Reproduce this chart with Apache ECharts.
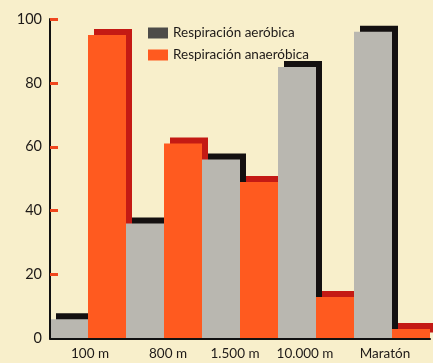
<!DOCTYPE html>
<html>
<head>
<meta charset="utf-8">
<style>
  html, body { margin: 0; padding: 0; background: #f8efcb; }
  #chart { width: 433px; height: 363px; }
</style>
<script src="https://cdn.jsdelivr.net/npm/echarts@6/dist/echarts.min.js"></script>
</head>
<body>
<div id="chart"></div>
<script>
const categories = ['100 m', '800 m', '1.500 m', '10.000 m', 'Maratón'];
const aerobica = [6, 36, 56, 85, 96];
const anaerobica = [95, 61, 49, 13, 3];
const seriesNames = ['Respiración aeróbica', 'Respiración anaeróbica'];
const yTicks = [0, 20, 40, 60, 80, 100];

const mainColors = ['#b9b7b0', '#ff5a1f'];
const shadowColors = ['#141010', '#c41a14'];
const legendColors = ['#4d4c49', '#ff5a1f'];
// horizontal nudge (px) of each category label, styling only
const labelNudge = [2, 4, -5, -11, -7];

const shadowData = [];
categories.forEach((c, i) => {
  shadowData.push([i, aerobica[i], 0]);
  shadowData.push([i, anaerobica[i], 1]);
});

const font = 'Lato, "Noto Sans", sans-serif';
const catData = categories.map((c, i) => {
  const d = labelNudge[i];
  return {
    value: c,
    textStyle: { padding: d >= 0 ? [0, 0, 0, 2 * d] : [0, -2 * d, 0, 0] }
  };
});

const chart = echarts.init(document.getElementById('chart'), null, { renderer: 'canvas' });

chart.setOption({
  backgroundColor: '#f8efcb',
  animation: false,
  grid: { left: 50, right: 3, top: 19, bottom: 24.5, containLabel: false },
  legend: {
    data: [
      { name: seriesNames[0], itemStyle: { color: legendColors[0] } },
      { name: seriesNames[1], itemStyle: { color: legendColors[1] } }
    ],
    orient: 'vertical',
    left: 143, top: 21,
    itemWidth: 20, itemHeight: 11, itemGap: 8,
    icon: 'rect',
    textStyle: { fontFamily: font, fontSize: 13.5, color: '#1e1a18' }
  },
  xAxis: {
    type: 'category',
    data: catData,
    z: 5,
    axisLine: { show: true, lineStyle: { color: '#111', width: 2 } },
    axisTick: { show: false },
    axisLabel: { interval: 0, fontFamily: font, fontSize: 13.5, color: '#1e1a18', margin: 8 },
    splitLine: { show: false }
  },
  yAxis: {
    type: 'value',
    min: yTicks[0], max: yTicks[yTicks.length - 1], interval: 20,
    z: 5,
    axisLine: { show: true, lineStyle: { color: '#111', width: 2 } },
    axisTick: { show: true, inside: true, length: 8, customValues: yTicks.slice(1), lineStyle: { color: '#f0461e', width: 3 } },
    axisLabel: { fontFamily: font, fontSize: 14.5, color: '#1e1a18', margin: 8, customValues: yTicks },
    splitLine: { show: false }
  },
  series: [
    {
      type: 'custom',
      name: 'shadow',
      z: 1,
      silent: true,
      data: shadowData,
      renderItem: function (params, api) {
        const ci = api.value(0), v = api.value(1), s = api.value(2);
        const band = api.size([1, 0])[0];
        const w = band / 2;
        const base = api.coord([ci, 0]);
        const top = api.coord([ci, v]);
        const x0 = base[0] - band / 2 + s * w;
        return {
          type: 'rect',
          shape: { x: x0 + 6, y: top[1] - 6, width: w, height: base[1] - top[1] },
          style: { fill: shadowColors[s] }
        };
      }
    },
    {
      type: 'bar',
      name: seriesNames[0],
      data: aerobica,
      z: 2,
      barGap: '0%',
      barCategoryGap: '0%',
      itemStyle: { color: mainColors[0] }
    },
    {
      type: 'bar',
      name: seriesNames[1],
      data: anaerobica,
      z: 2,
      barGap: '0%',
      barCategoryGap: '0%',
      itemStyle: { color: mainColors[1] }
    }
  ]
});
</script>
</body>
</html>
